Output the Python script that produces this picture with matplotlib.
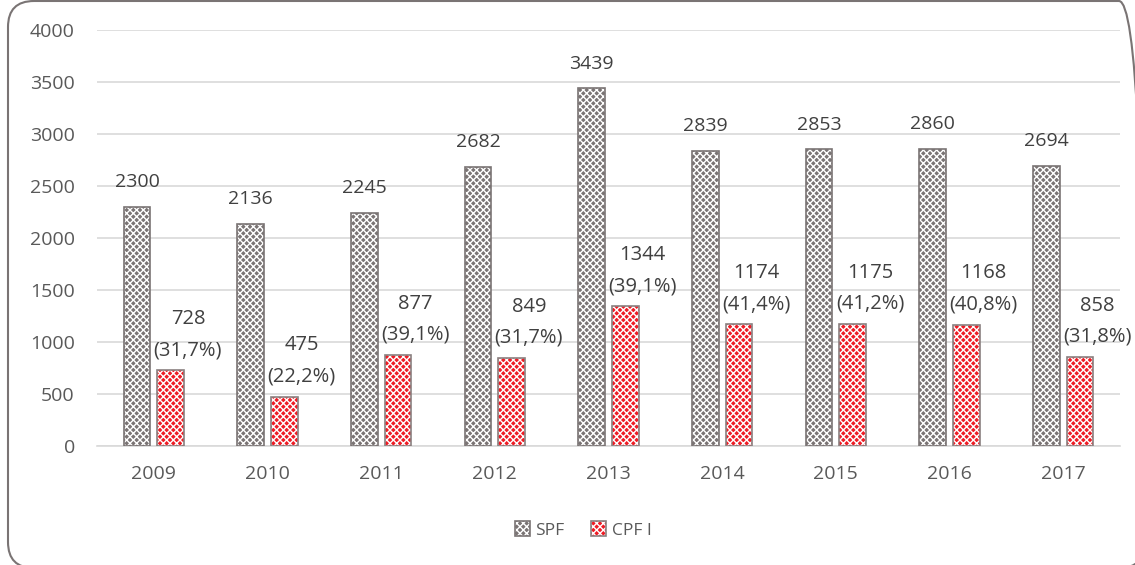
import numpy as np
import matplotlib.pyplot as plt
from matplotlib.patches import FancyBboxPatch
from matplotlib.transforms import IdentityTransform, offset_copy

years = ['2009', '2010', '2011', '2012', '2013', '2014', '2015', '2016', '2017']
spf = [2300, 2136, 2245, 2682, 3439, 2839, 2853, 2860, 2694]
cpf = [728, 475, 877, 849, 1344, 1174, 1175, 1168, 858]
cpf_pct = ['31,7%', '22,2%', '39,1%', '31,7%', '39,1%', '41,4%', '41,2%', '40,8%', '31,8%']

plt.rcParams['font.family'] = ['Open Sans', 'DejaVu Sans']
plt.rcParams['hatch.linewidth'] = 1.0

fig = plt.figure(figsize=(11.35, 5.65), dpi=100)
ax = fig.add_axes([97 / 1135, 1 - 446 / 565, (1120 - 97) / 1135, (446 - 30) / 565])

x = np.arange(len(years))
w = 0.235
gap = 0.03
xs = x - w / 2 - gap
xc = x + w / 2 + gap

# colour fill, then white hatch on top (hatch takes the edge colour), then outline
b1 = ax.bar(xs, spf, w, color='#7a7474', linewidth=0, zorder=3)
h1 = ax.bar(xs, spf, w, fill=False, edgecolor='white', hatch='xxxxx', linewidth=0, zorder=4)
o1 = ax.bar(xs, spf, w, fill=False, edgecolor='#7a7474', linewidth=1.2, zorder=5)
b2 = ax.bar(xc, cpf, w, color='#ee1c25', linewidth=0, zorder=3)
h2 = ax.bar(xc, cpf, w, fill=False, edgecolor='white', hatch='xxxxx', linewidth=0, zorder=4)
o2 = ax.bar(xc, cpf, w, fill=False, edgecolor='#8a8080', linewidth=1.2, zorder=5)

# CPF labels sit a bit to the right of their bar
shifted = offset_copy(ax.transData, fig=fig, x=12.5, y=0, units='points')
for i in range(len(years)):
    ax.text(xs[i], spf[i] + 150, str(spf[i]), ha='center', va='bottom',
            fontsize=14, color='#404040')
    ax.text(xc[i], cpf[i] + 95, f'{cpf[i]}\n({cpf_pct[i]})', ha='center',
            va='bottom', fontsize=14.5, color='#404040', linespacing=1.75,
            transform=shifted, multialignment='center')

ax.set_ylim(0, 4000)
ax.set_xlim(-0.5, len(years) - 0.5)
ax.set_yticks(np.arange(0, 4001, 500))
ax.set_xticks(x)
ax.set_xticklabels(years)
ax.tick_params(axis='both', length=0, labelsize=14, colors='#595959')
ax.tick_params(axis='y', pad=16)
ax.tick_params(axis='x', pad=14)
ax.grid(axis='y', color='#d9d9d9', linewidth=1.2, zorder=0)
for s in ['top', 'right', 'left']:
    ax.spines[s].set_visible(False)
ax.spines['bottom'].set_color('#d9d9d9')
ax.spines['bottom'].set_linewidth(1.2)

leg = fig.legend(handles=[(b1[0], h1[0], o1[0]), (b2[0], h2[0], o2[0])], labels=['SPF', 'CPF I'],
                 loc='center', bbox_to_anchor=(583 / 1135, 1 - 530 / 565),
                 ncol=2, frameon=False, fontsize=12.5, handlelength=0.9, handleheight=0.9,
                 handletextpad=0.3, columnspacing=1.5)
for t in leg.get_texts():
    t.set_color('#595959')

# rounded chart border, partly running off the right and bottom edges
border = FancyBboxPatch((8, -3), 1137, 567, boxstyle='round,pad=0,rounding_size=26',
                        transform=IdentityTransform(), fill=False, edgecolor='#7a7474',
                        linewidth=1.5)
fig.add_artist(border)
border.set_transform(IdentityTransform())

fig.savefig('out.png', dpi=100)
